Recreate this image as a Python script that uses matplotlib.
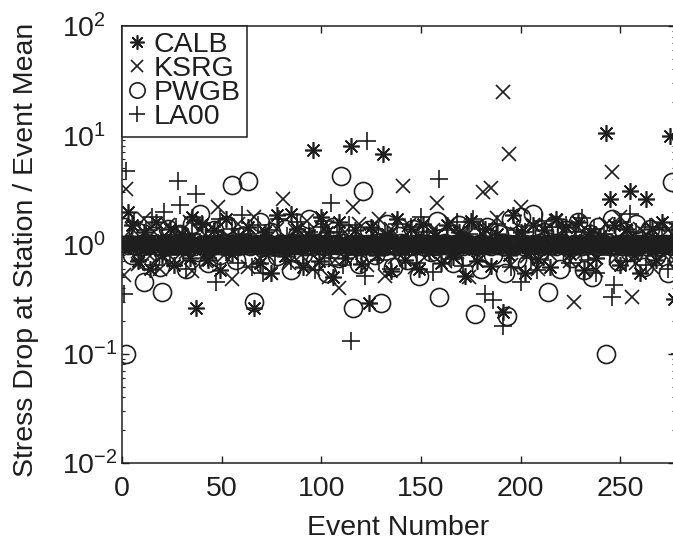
import matplotlib
matplotlib.use("Agg")
import matplotlib.pyplot as plt
import numpy as np
from matplotlib.ticker import LogLocator, FixedLocator, NullFormatter

plt.rcParams['font.family'] = ['Liberation Sans', 'DejaVu Sans']
plt.rcParams['mathtext.default'] = 'regular'

# ---- data: stress drop at station / event mean, per event (event number = index + 1)
CALB = [0.98, 1.03, 2.0, 0.96, 1.5, 1.01, 0.97, 0.7, 1.04, 0.99, 1.3, 0.95, 1.02, 0.6, 1.0, 0.97, 1.6, 1.03, 0.98, 0.8,
        1.02, 0.96, 1.0, 1.4, 0.98, 0.65, 1.03, 0.97, 1.01, 1.25, 0.95, 1.02, 0.99, 0.75, 1.8, 1.04, 0.26, 0.97, 1.0, 1.55,
        0.98, 1.02, 0.72, 0.96, 1.03, 1.35, 0.99, 1.0, 0.58, 1.04, 0.97, 1.7, 0.95, 1.01, 0.82, 0.98, 1.02, 1.2, 0.96, 1.03,
        1.0, 0.97, 1.45, 1.02, 0.96, 0.26, 1.04, 0.99, 0.68, 1.01, 0.98, 1.3, 0.95, 1.03, 0.55, 1.0, 0.97, 1.85, 1.02, 0.96,
        1.03, 0.78, 0.98, 1.01, 1.9, 0.97, 1.02, 1.4, 0.96, 1.0, 0.62, 1.04, 0.99, 1.22, 0.95, 7.4, 1.01, 0.97, 0.7, 1.8,
        1.02, 0.96, 1.3, 0.99, 1.03, 0.5, 0.97, 1.0, 1.6, 1.04, 0.98, 0.75, 1.01, 0.95, 7.9, 1.02, 1.35, 0.97, 0.99, 0.66,
        1.03, 0.98, 1.0, 0.29, 1.45, 0.96, 1.02, 0.8, 0.99, 1.04, 6.8, 0.97, 1.25, 1.01, 0.57, 0.98, 1.03, 1.7, 0.96, 1.0,
        1.02, 0.72, 0.97, 1.01, 1.38, 0.99, 1.03, 0.96, 0.6, 1.0, 1.55, 0.98, 1.02, 0.85, 0.95, 1.04, 1.2, 0.97, 1.01, 0.68,
        0.99, 1.03, 1.5, 0.96, 1.0, 0.77, 1.02, 0.98, 1.3, 1.01, 0.97, 0.52, 1.04, 0.95, 1.65, 1.0, 0.98, 0.7, 1.02, 0.96,
        1.03, 1.4, 0.97, 1.0, 0.63, 0.99, 1.02, 1.25, 0.96, 1.01, 0.24, 0.98, 1.04, 0.8, 0.97, 1.85, 1.0, 0.95, 1.02, 1.3,
        0.98, 0.55, 1.01, 0.97, 1.03, 1.5, 0.99, 1.0, 0.74, 1.02, 0.96, 1.35, 1.04, 0.98, 0.62, 1.01, 0.97, 1.7, 1.0, 0.99,
        1.02, 0.96, 1.45, 0.99, 0.82, 1.03, 1.0, 0.97, 1.6, 1.01, 0.98, 0.58, 1.04, 0.95, 1.3, 1.02, 0.99, 0.76, 1.0, 1.2,
        0.97, 1.03, 10.4, 1.0, 2.6, 0.96, 1.5, 1.02, 0.99, 0.65, 1.01, 0.98, 1.38, 1.03, 3.1, 0.97, 0.8, 1.0, 1.02, 0.55,
        0.99, 1.02, 2.6, 0.96, 1.01, 1.4, 0.98, 0.72, 1.03, 1.0, 1.6, 0.97, 1.02, 0.99, 9.8, 1.01, 0.32, 0.96, 1.25, 1.0]

KSRG = [0.53, 3.2, 1.01, 0.97, 1.4, 1.02, 0.98, 0.66, 1.0, 1.03, 1.7, 0.96, 0.99, 0.78, 1.02, 1.3, 0.97, 1.01, 0.6, 1.0,
        1.03, 0.98, 1.5, 0.96, 1.01, 0.72, 1.0, 1.02, 1.25, 0.97, 0.99, 0.85, 1.04, 1.6, 0.57, 1.0, 0.96, 1.02, 1.35, 0.98,
        1.01, 0.7, 0.97, 1.03, 1.45, 0.99, 1.0, 2.2, 0.96, 1.02, 0.8, 0.98, 1.2, 1.01, 0.48, 0.97, 1.03, 1.55, 1.0, 0.96,
        0.99, 1.02, 0.62, 1.0, 0.97, 1.8, 1.03, 0.98, 0.75, 1.01, 0.96, 1.3, 1.02, 0.99, 0.55, 1.0, 1.04, 1.4, 0.97, 1.01,
        2.6, 0.98, 1.02, 0.68, 1.0, 0.97, 1.35, 1.03, 0.99, 0.8, 1.01, 0.96, 1.65, 1.02, 0.98, 0.6, 1.0, 1.2, 0.97, 1.03,
        1.01, 0.97, 1.45, 0.5, 1.02, 0.99, 0.72, 1.0, 0.4, 1.03, 0.96, 1.3, 1.01, 0.98, 0.85, 2.2, 1.0, 0.97, 1.55, 1.02,
        0.98, 1.01, 0.65, 1.03, 0.97, 1.25, 1.0, 0.99, 1.7, 1.02, 0.96, 0.52, 1.01, 0.98, 1.4, 1.0, 0.77, 1.03, 0.97, 1.01,
        3.4, 0.98, 1.02, 1.5, 0.99, 1.0, 0.62, 1.03, 0.96, 1.2, 1.01, 0.97, 0.8, 1.02, 0.98, 1.35, 1.0, 2.4, 0.96, 1.03,
        1.0, 0.7, 0.98, 1.02, 1.6, 0.97, 1.01, 0.85, 1.03, 0.99, 1.3, 0.96, 1.0, 0.5, 1.02, 0.98, 1.45, 1.01, 0.97, 0.75,
        3.0, 1.01, 0.97, 1.4, 3.3, 0.99, 1.02, 1.75, 0.98, 1.0, 24.8, 0.96, 1.03, 6.8, 0.65, 1.01, 0.98, 1.25, 0.97, 2.2,
        1.02, 0.99, 0.78, 1.0, 0.97, 1.5, 1.03, 0.98, 0.6, 1.01, 0.96, 1.35, 1.02, 0.99, 0.82, 1.0, 0.97, 1.65, 1.03, 0.98,
        1.01, 1.3, 0.97, 1.02, 0.7, 0.99, 0.30, 1.0, 1.45, 0.96, 1.03, 0.85, 0.98, 1.01, 1.2, 0.97, 1.02, 0.58, 1.0, 0.99,
        1.02, 0.97, 1.55, 1.0, 0.98, 4.6, 1.03, 0.75, 0.99, 1.8, 1.01, 0.96, 1.3, 1.02, 0.98, 0.33, 1.0, 0.68, 0.97, 1.4,
        1.01, 0.98, 1.25, 1.03, 0.96, 0.62, 1.0, 1.02, 1.5, 0.97, 0.99, 0.8, 1.01, 1.35, 0.98, 1.0, 0.72, 1.03, 0.96, 1.2]

PWGB = [1.45, 0.10, 0.98, 1.02, 0.8, 1.0, 0.97, 1.3, 1.01, 0.96, 0.45, 1.03, 0.99, 0.7, 1.02, 1.2, 0.98, 1.0, 0.62, 0.37,
        1.01, 0.97, 1.4, 1.03, 0.99, 0.75, 1.0, 0.98, 1.25, 1.02, 0.96, 0.6, 1.01, 0.99, 1.55, 0.97, 1.03, 0.85, 1.9, 1.0,
        0.98, 1.02, 0.68, 1.0, 0.97, 1.35, 1.01, 0.99, 0.8, 1.03, 0.96, 1.5, 1.0, 0.98, 3.5, 1.02, 0.72, 0.97, 1.01, 1.2,
        0.99, 1.03, 3.8, 0.97, 1.0, 0.30, 1.02, 0.98, 1.6, 1.01, 0.96, 0.65, 1.03, 0.99, 1.3, 1.0, 0.97, 0.78, 1.02, 0.98,
        1.01, 1.4, 0.97, 1.0, 0.58, 1.03, 0.98, 1.2, 0.99, 1.02, 0.82, 0.96, 1.01, 1.7, 1.0, 0.97, 0.7, 1.03, 0.98, 1.3,
        1.0, 0.97, 0.55, 1.02, 0.99, 1.45, 1.01, 0.98, 0.75, 4.2, 1.03, 0.96, 1.25, 1.0, 0.98, 0.26, 1.02, 0.97, 0.66, 1.01,
        3.1, 0.99, 1.02, 1.35, 0.97, 1.0, 0.8, 1.03, 0.98, 0.29, 1.01, 0.96, 1.55, 1.02, 0.99, 0.62, 1.0, 0.97, 1.2, 1.03,
        0.98, 1.01, 0.72, 1.0, 0.97, 1.4, 1.02, 0.99, 0.52, 1.03, 0.96, 1.3, 1.01, 0.98, 0.85, 1.0, 0.97, 1.65, 0.33, 1.02,
        0.99, 1.03, 1.2, 0.97, 1.0, 0.68, 1.02, 0.98, 1.5, 1.01, 0.96, 0.78, 1.03, 0.99, 1.35, 1.0, 0.23, 0.97, 1.02, 0.6,
        1.01, 0.98, 1.45, 1.0, 0.97, 0.8, 1.03, 0.99, 1.25, 1.02, 0.96, 0.55, 0.22, 1.01, 1.7, 0.98, 1.0, 0.74, 1.03, 1.8,
        0.97, 1.02, 0.66, 1.0, 0.99, 1.9, 1.01, 0.98, 0.82, 1.03, 0.96, 1.3, 1.02, 0.37, 0.99, 1.0, 1.5, 0.97, 1.01, 0.6,
        1.03, 0.98, 1.35, 1.0, 0.97, 0.75, 1.02, 0.99, 1.6, 1.01, 0.96, 0.58, 1.03, 0.98, 1.25, 0.50, 1.0, 0.97, 1.45, 1.02,
        0.99, 1.01, 0.10, 1.03, 0.97, 1.7, 1.0, 0.98, 0.7, 1.02, 0.96, 1.3, 1.01, 0.99, 0.85, 1.0, 0.97, 1.55, 1.02, 0.98,
        1.01, 0.62, 0.97, 1.03, 1.4, 0.99, 1.0, 0.78, 1.02, 0.96, 1.2, 0.98, 1.01, 0.55, 1.0, 3.7, 0.97, 1.03, 0.72, 1.0]

LA00 = [0.35, 4.7, 1.01, 0.97, 1.03, 1.6, 0.99, 1.0, 0.72, 1.02, 0.96, 1.35, 1.01, 0.98, 1.8, 1.0, 0.65, 1.03, 0.97, 1.2,
        2.0, 0.98, 1.02, 0.8, 1.0, 0.97, 1.45, 3.8, 2.3, 1.01, 0.99, 0.6, 1.03, 0.96, 1.25, 1.0, 2.9, 0.98, 1.02, 1.55,
        0.97, 1.01, 0.75, 1.03, 0.99, 1.3, 0.45, 1.0, 1.7, 0.98, 1.02, 0.85, 0.96, 1.01, 1.4, 0.99, 1.03, 0.68, 1.0, 1.85,
        0.98, 1.02, 1.25, 1.0, 0.62, 0.97, 1.01, 1.5, 0.99, 1.03, 0.55, 0.96, 1.02, 1.35, 1.0, 0.98, 0.78, 1.01, 1.7, 0.97,
        1.03, 0.99, 1.2, 1.0, 0.7, 1.02, 0.97, 1.6, 1.01, 0.98, 0.82, 1.0, 1.03, 1.3, 0.96, 1.02, 0.58, 0.99, 1.01, 1.45,
        1.65, 0.98, 1.02, 0.75, 2.4, 1.0, 0.97, 1.3, 1.01, 0.99, 0.65, 1.03, 0.96, 1.5, 0.13, 1.02, 0.98, 0.8, 1.0, 1.01,
        0.97, 0.52, 8.8, 1.02, 0.99, 1.4, 1.0, 1.03, 0.72, 0.98, 1.01, 1.25, 0.96, 1.0, 0.6, 1.02, 0.99, 1.55, 0.97, 1.01,
        1.03, 0.8, 0.98, 1.0, 1.45, 0.97, 1.02, 0.68, 0.99, 1.8, 1.01, 0.96, 1.3, 1.0, 0.98, 0.56, 1.03, 1.2, 4.0, 0.97,
        1.01, 0.99, 1.35, 1.02, 0.74, 1.0, 0.97, 1.6, 1.03, 0.98, 0.64, 1.01, 0.96, 1.25, 1.0, 1.7, 0.99, 0.82, 1.02, 0.97,
        1.4, 0.35, 1.0, 0.98, 1.02, 0.31, 0.97, 1.55, 1.01, 0.99, 0.18, 1.03, 1.2, 0.96, 0.62, 1.0, 0.98, 1.35, 1.02, 0.45,
        0.99, 1.3, 1.01, 0.97, 0.76, 1.03, 1.0, 0.58, 0.98, 1.02, 1.65, 0.96, 1.01, 0.85, 0.99, 1.45, 1.0, 0.97, 1.2, 1.03,
        0.98, 1.02, 1.5, 1.0, 0.68, 0.97, 1.01, 1.3, 0.99, 1.03, 1.75, 0.96, 1.02, 0.72, 1.0, 0.98, 1.4, 0.55, 1.01, 0.97,
        1.02, 1.25, 0.99, 1.0, 0.8, 0.33, 0.43, 1.03, 0.97, 1.6, 1.01, 0.98, 0.7, 1.02, 1.9, 0.96, 1.0, 1.3, 0.99, 1.01,
        0.97, 1.02, 0.65, 1.0, 1.45, 0.98, 1.03, 0.78, 1.01, 0.99, 1.2, 0.96, 1.02, 0.6, 1.0, 1.35, 0.98, 1.01, 1.55, 0.10]

stations = ['CALB', 'KSRG', 'PWGB', 'LA00']
xticks = [0, 50, 100, 150, 200, 250]

# ---- figure
W, H = 673, 542
fig = plt.figure(figsize=(W / 100, H / 100), dpi=100)
ax = fig.add_axes([122 / W, (H - 463) / H, (675 - 122) / W, (463 - 26) / H])

ink = '#1e1e1e'
FS = 20.5
star = (8, 2, 0)
styles = {
    'CALB': dict(marker=star, ms=12, mew=1.2),
    'KSRG': dict(marker='x', ms=10, mew=1.2),
    'PWGB': dict(marker='o', ms=13, mew=1.2, mfc='none'),
    'LA00': dict(marker='+', ms=13, mew=1.2),
}
series = {'CALB': CALB, 'KSRG': KSRG, 'PWGB': PWGB, 'LA00': LA00}
for name in stations:
    vals = np.array(series[name], dtype=float)
    ev = np.arange(1, len(vals) + 1)
    ax.plot(ev, vals, linestyle='none', color=ink, mec=ink, label=name, clip_on=True, **styles[name])

ax.set_yscale('log')
ax.set_ylim(1e-2, 1e2)
ax.set_xlim(0, 277.5)
ax.set_xticks(xticks)
ax.set_xticklabels([str(t) for t in xticks])
ax.yaxis.set_major_locator(FixedLocator([1e-2, 1e-1, 1e0, 1e1, 1e2]))
ax.set_yticklabels([r'$10^{-2}$', r'$10^{-1}$', r'$10^{0}$', r'$10^{1}$', r'$10^{2}$'])
ax.yaxis.set_minor_locator(LogLocator(base=10, subs=np.arange(2, 10), numticks=20))
ax.yaxis.set_minor_formatter(NullFormatter())

for s in ax.spines.values():
    s.set_color(ink)
    s.set_linewidth(1.1)

ax.tick_params(axis='both', which='both', direction='in', colors=ink, top=True, right=True)
ax.tick_params(axis='both', which='major', length=5, width=1.0, labelsize=FS)
ax.tick_params(axis='y', which='minor', length=2.5, width=0.8)
ax.tick_params(axis='x', which='major', pad=9)
ax.tick_params(axis='y', which='major', pad=43)
for lab in ax.get_yticklabels():
    lab.set_horizontalalignment('left')

ax.set_xlabel('Event Number', fontsize=FS, color=ink, va='baseline')
ax.xaxis.set_label_coords(0.5, (463 - 535) / 437)
ax.set_ylabel('Stress Drop at Station / Event Mean', fontsize=FS, color=ink, va='baseline')
ax.yaxis.set_label_coords((33 - 122) / 553, (463 - 250) / 437)

leg = ax.legend(loc='upper left', bbox_to_anchor=(0, 1), borderaxespad=0, fontsize=FS,
                frameon=True, fancybox=False, framealpha=1, edgecolor=ink,
                numpoints=1, markerscale=0.85, handlelength=0.6, handletextpad=0.3,
                borderpad=0.22, labelspacing=-0.07)
leg.get_frame().set_linewidth(1.1)
for t in leg.get_texts():
    t.set_color(ink)

fig.savefig('out.png', dpi=100)
